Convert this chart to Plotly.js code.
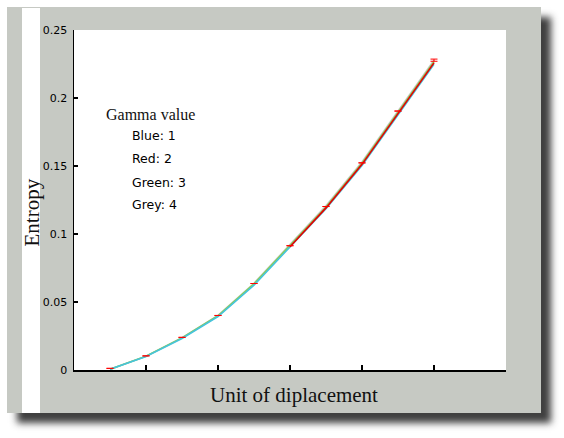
<!DOCTYPE html>
<html>
<head>
<meta charset="utf-8">
<script src="https://cdn.plot.ly/plotly-3.0.1.min.js"></script>
<style>
  body { margin: 0; background: #ffffff; }
  #frame {
    position: absolute; left: 7px; top: 7px; width: 534px; height: 406px;
    background: #c6c9c3;
    box-shadow: 10px 10px 7px rgba(30, 30, 30, 0.85);
  }
  #strip {
    position: absolute; left: 22px; top: 8px; width: 18px; height: 405px;
    background: #ffffff;
  }
  #chart { position: absolute; left: 0; top: 0; width: 564px; height: 438px; }
</style>
</head>
<body>
<div id="frame"></div>
<div id="strip"></div>
<div id="chart"></div>
<script>
// displacement steps
const xAll = [0.5, 1, 1.5, 2, 2.5, 3, 3.5, 4, 4.5, 5];
const xRed = [3, 3.5, 4, 4.5, 5];

// entropy curves, one per gamma value
const entropyGrey  = [0.0005, 0.0102, 0.0238, 0.0402, 0.0638, 0.0920, 0.1207, 0.1530, 0.1908, 0.2278];
const entropyGreen = [0.0005, 0.0101, 0.0236, 0.0399, 0.0633, 0.0913, 0.1199, 0.1520, 0.1897, 0.2267];
const entropyBlue  = [0.0005, 0.0099, 0.0232, 0.0393, 0.0624, 0.0902, 0.1186, 0.1504, 0.1878, 0.2248];
const entropyRed   = [0.0906, 0.1192, 0.1512, 0.1888, 0.2258];

// measured points (red dashes) and their spread
const measured = [0.0012, 0.0104, 0.0240, 0.0401, 0.0636, 0.0914, 0.1202, 0.1523, 0.1904, 0.2278];
const spread   = [0, 0, 0, 0, 0, 0, 0, 0, 0, 0.0008];

const legendTitle = 'Gamma value';
const legendItems = ['Blue: 1', 'Red: 2', 'Green: 3', 'Grey: 4'];

const line = (x, y, color) => ({
  x: x, y: y, type: 'scatter', mode: 'lines',
  line: { color: color, width: 1.6 },
  hoverinfo: 'skip', showlegend: false
});

const traces = [
  line(xAll, entropyGrey, '#c4c4c4'),
  line(xAll, entropyGreen, '#86d24c'),
  line(xAll, entropyBlue, '#46c3dd'),
  line(xRed, entropyRed, '#e80000'),
  {
    x: xAll, y: measured, type: 'scatter', mode: 'markers',
    marker: { size: 1, opacity: 0 },
    error_y: { type: 'data', array: spread, color: '#ff0000', thickness: 1, width: 3.5 },
    hoverinfo: 'skip', showlegend: false
  }
];

// plot area spans x 74..506 px, y 30..370 px
const px = x => (x - 74) / 432;
const py = y => (370 - y) / 340;

const annotations = [
  { text: legendTitle, x: px(104), y: py(114), xanchor: 'left',
    font: { family: 'Liberation Serif, serif', size: 16, color: '#111' } },
  { text: 'Entropy', x: px(31.5), y: py(213), textangle: -90, xanchor: 'center',
    font: { family: 'Liberation Serif, serif', size: 21, color: '#111' } },
  { text: 'Unit of diplacement', x: px(294), y: py(395), xanchor: 'center',
    font: { family: 'Liberation Serif, serif', size: 21, color: '#111' } }
];
const itemY = [135, 158, 182, 205];
legendItems.forEach((t, i) => {
  annotations.push({ text: t, x: px(130), y: py(itemY[i]), xanchor: 'left',
    font: { family: 'DejaVu Sans, sans-serif', size: 12.5, color: '#000' } });
});
annotations.forEach(a => {
  a.xref = 'paper'; a.yref = 'paper'; a.showarrow = false; a.yanchor = 'middle';
});

const layout = {
  width: 564, height: 438,
  margin: { l: 74, r: 58, t: 30, b: 68 },
  paper_bgcolor: 'rgba(0,0,0,0)',
  plot_bgcolor: '#ffffff',
  font: { family: 'DejaVu Sans, sans-serif', size: 11, color: '#000' },
  xaxis: {
    range: [0, 6], dtick: 1, tick0: 0,
    showgrid: false, zeroline: false, showticklabels: false,
    showline: true, linecolor: '#000', linewidth: 1.5,
    ticks: 'inside', ticklen: 5, tickwidth: 1.3, tickcolor: '#000'
  },
  yaxis: {
    range: [0, 0.25], dtick: 0.05, tick0: 0,
    showgrid: false, zeroline: false,
    showline: true, linecolor: '#000', linewidth: 1.5,
    ticks: 'inside', ticklen: 4, tickwidth: 1.3, tickcolor: '#000',
    ticklabelstandoff: 3,
    tickfont: { family: 'DejaVu Sans, sans-serif', size: 11, color: '#000' }
  },
  annotations: annotations
};

Plotly.newPlot('chart', traces, layout, { displayModeBar: false, staticPlot: true });
</script>
</body>
</html>
